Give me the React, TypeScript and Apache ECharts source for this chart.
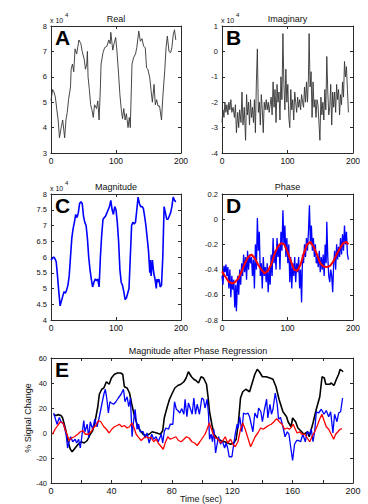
import React, { useEffect, useRef } from 'react';
import * as echarts from 'echarts';

// ---------- data ----------
const REAL: [number, number][] = [
  [0,5.07],[2.5,5.5],[4.6,5.4],[6.7,5.2],[9,4.7],[11,4.3],[13,3.6],[16,4.05],[18,4.3],[21,3.6],[23,4.3],[25,4.6],[27,5.1],[30,5.6],[31,6.3],[33,6.5],[35,6.2],[37,7.1],[39.5,6.9],[43,7.45],[46,7.3],[48,7.0],[51,6.7],[53,6.3],[55,6.5],[56,7.0],[57,6.0],[59,5.5],[61,4.9],[63,4.7],[65,4.4],[67,4.9],[70,4.75],[72,5.05],[74,4.3],[76,5.6],[77,6.5],[80,6.95],[82.5,7.15],[86,7.2],[89,7.45],[91,7.3],[92,7.75],[95,7.05],[97,7.3],[99.5,7.55],[101.5,7.0],[104,6.1],[106,5.3],[108,4.75],[110,4.35],[112,4.75],[114,4.3],[116,4.55],[118.5,4.0],[120.5,4.4],[122,4.0],[124.6,6.5],[127,6.75],[130,6.9],[132,7.15],[135,7.8],[137.5,7.4],[140,7.5],[142.5,7.2],[145,7.15],[147,6.35],[149,6.3],[152,5.95],[154,5.45],[156,5.0],[158.5,5.7],[160.5,4.9],[162.5,5.1],[164.6,4.85],[167,4.85],[170,4.3],[172,5.2],[175,6.25],[177,7.15],[179,7.6],[181.5,7.0],[184,6.95],[186,7.15],[188,7.65],[190,7.85],[192,7.45]
];

const IMAG: [number, number][] = [
  [0,-2.8],[1.5,-2.3],[3,-2.6],[4.5,-2.0],[6,-2.4],[7.5,-2.1],[9,-2.5],[10.5,-2.0],[12,-2.3],[13.5,-1.9],[15,-2.4],[17,-2.2],[19,-2.6],[20.5,-2.1],[22,-3.2],[24,-2.4],[25.5,-3.0],[27,-2.3],[29,-2.8],[30.5,-1.6],[32,-2.9],[34,-2.2],[36,-3.5],[37.5,-1.7],[39,-2.5],[40.5,-2.0],[42,-2.9],[43.5,-1.9],[45,-2.6],[46.5,-2.2],[48,-2.8],[49.5,-1.9],[51,-3.2],[52.5,-1.2],[54,0.1],[55.5,-2.4],[57,-2.0],[58.5,-2.9],[60,-1.7],[61.5,-2.3],[63,-3.2],[64.5,-2.0],[66,-2.3],[67.5,-1.9],[69,-2.3],[70.5,-2.0],[72,-2.4],[73.5,-2.1],[75,-1.8],[76.5,-2.5],[78,-1.2],[79.5,-2.2],[81,-1.5],[82.5,-2.8],[84,-1.3],[85.5,-2.0],[87,-1.6],[88.5,-2.7],[90,-1.0],[91.5,-1.9],[93,0.7],[94.5,-1.3],[96,-2.3],[97.5,-0.7],[99,-2.0],[100.5,-1.3],[102,-2.6],[103.5,-3.0],[105,-1.5],[106.5,-2.3],[108,-1.9],[109.5,-2.7],[111,-1.6],[112.5,-2.0],[114,-2.4],[115.5,-1.8],[117,-2.2],[118.5,-1.9],[120,-2.3],[121.5,-1.7],[123,-2.0],[124.5,-2.2],[126,-1.4],[127.5,-2.0],[129,-1.2],[130.5,-2.0],[132,-1.0],[133,0.7],[134.5,-1.4],[136,-0.8],[137.5,-2.6],[139,-1.2],[140.5,-2.2],[142,-1.9],[143.5,-2.6],[145,-1.9],[146.5,-2.1],[148,-2.8],[149.5,-3.5],[151,-1.8],[152.5,-2.5],[154,-2.0],[155.5,-2.7],[157,-1.5],[158.5,-2.3],[160,-0.2],[161.5,-1.6],[163,-2.5],[164.5,-2.2],[166,-1.3],[167.5,-2.9],[169,-1.6],[170.5,-2.2],[172,-1.6],[173.5,-2.4],[175,-1.3],[176.5,-1.9],[178,-1.5],[179.5,-2.5],[181,-1.7],[182.5,-2.1],[184,-1.2],[185.5,-1.8],[187,-0.4],[188.5,-1.0],[190,-0.6],[191.5,-1.5],[193,-2.4]
];

const MAGN: [number, number][] = [
  [0,5.9],[2,5.95],[4,6.0],[6,5.95],[8,5.85],[10,5.4],[12,4.9],[14,4.45],[16,4.6],[18,4.75],[20,4.9],[22,4.85],[24,4.95],[26,5.1],[28,5.4],[30,6.0],[32,6.6],[34,6.9],[36,7.1],[38,7.35],[40,7.25],[42,7.4],[44,7.7],[46,7.75],[48,7.7],[50,7.3],[52,7.1],[54,7.0],[56,6.6],[58,6.0],[60,5.6],[62,5.3],[64,5.05],[66,5.2],[68,5.3],[70,5.25],[72,5.3],[74,5.05],[76,6.0],[78,6.7],[80,7.2],[82,7.25],[84,7.3],[86,7.4],[88,7.5],[90,7.6],[92,7.8],[94,7.5],[96,7.35],[98,7.6],[100,7.5],[102,7.1],[104,6.5],[106,5.6],[108,5.2],[110,5.1],[112,4.9],[114,4.65],[116,4.7],[118,4.85],[120,5.0],[122,6.0],[124,7.0],[126,7.1],[128,7.05],[130,7.1],[132,7.5],[134,7.9],[136,7.7],[138,7.6],[140,7.6],[142,7.55],[144,7.3],[146,7.0],[148,6.6],[150,6.2],[152,5.5],[153,5.9],[154,5.4],[156,5.9],[158,5.5],[160,5.3],[162,5.0],[163,5.3],[164,5.2],[166,5.3],[168,5.05],[170,5.1],[172,6.0],[174,7.6],[176,7.4],[178,7.2],[180,7.2],[182,7.3],[184,7.4],[186,7.6],[188,7.9],[190,7.8],[192,7.75]
];

const PHASE: [number, number][] = [
  [0,-0.45],[1.5,-0.52],[3,-0.37],[4.5,-0.42],[6,-0.36],[7.5,-0.45],[9,-0.38],[10.5,-0.55],[12,-0.4],[13.5,-0.62],[15,-0.45],[16.5,-0.56],[18,-0.48],[19.5,-0.7],[21,-0.52],[22,-0.73],[24,-0.45],[25.5,-0.6],[27,-0.4],[28.5,-0.52],[30,-0.35],[31.5,-0.45],[33,-0.28],[34.5,-0.42],[36,-0.3],[37.5,-0.48],[39,-0.25],[40.5,-0.4],[42,-0.28],[43.5,-0.35],[45,-0.3],[46.5,-0.45],[48,-0.32],[49.5,-0.55],[51,-0.2],[52.5,-0.4],[54,0.01],[55.5,-0.25],[57,-0.1],[58.5,-0.45],[60,-0.35],[61.5,-0.55],[63,-0.3],[64.5,-0.45],[66,-0.38],[67.5,-0.5],[69,-0.35],[70.5,-0.58],[72,-0.4],[73.5,-0.52],[75,-0.28],[76.5,-0.45],[78,-0.15],[79.5,-0.35],[81,-0.25],[82.5,-0.4],[84,-0.15],[85.5,-0.3],[87,-0.2],[88.5,-0.4],[90,-0.1],[91.5,-0.25],[93,0.07],[94.5,-0.2],[96,-0.05],[97.5,-0.3],[99,-0.15],[100.5,-0.35],[102,-0.2],[103.5,-0.5],[105,-0.3],[106.5,-0.55],[108,-0.35],[109.5,-0.45],[111,-0.3],[112.5,-0.5],[114,-0.35],[115.5,-0.42],[117,-0.3],[118.5,-0.55],[120,-0.4],[121.5,-0.66],[123,-0.28],[124.5,-0.35],[126,-0.2],[127.5,-0.3],[129,-0.15],[130.5,-0.25],[132,-0.1],[133.5,0.11],[135,-0.2],[136.5,-0.05],[138,-0.25],[139.5,-0.15],[141,-0.3],[142.5,-0.2],[144,-0.35],[145.5,-0.3],[147,-0.38],[148.5,-0.25],[150,-0.42],[151.5,-0.3],[153,-0.4],[154.5,-0.28],[156,-0.45],[157.5,-0.2],[159,-0.35],[160,-0.02],[161.5,-0.3],[163,-0.45],[164.5,-0.5],[166,-0.4],[167.5,-0.45],[169,-0.58],[170.5,-0.35],[172,-0.25],[173.5,-0.4],[175,-0.2],[176.5,-0.32],[178,-0.22],[179.5,-0.3],[181,-0.15],[182.5,-0.28],[184,-0.12],[185.5,-0.25],[187,-0.05],[188.5,-0.2],[190,-0.1],[191.5,-0.28],[193,-0.32]
];

const PHASE_FIT: [number, number][] = [
  [0,-0.415],[5,-0.455],[10,-0.495],[15,-0.51],[20,-0.5],[25,-0.47],[30,-0.415],[35,-0.35],[40,-0.3],[45,-0.28],[50,-0.31],[55,-0.36],[60,-0.4],[65,-0.43],[70,-0.41],[75,-0.36],[80,-0.28],[85,-0.22],[90,-0.19],[95,-0.2],[100,-0.26],[105,-0.33],[110,-0.4],[115,-0.41],[120,-0.36],[125,-0.27],[130,-0.2],[135,-0.18],[140,-0.22],[145,-0.28],[150,-0.35],[155,-0.375],[160,-0.38],[165,-0.37],[170,-0.335],[175,-0.28],[180,-0.23],[185,-0.19],[190,-0.18],[193,-0.2]
];

const E_BLACK: [number, number][] = [
  [1.8,14.7],[3.3,14],[4.9,14.7],[6.6,14],[7.7,12],[8.8,7],[10,1],[11,-6],[12.8,-13],[14,-15],[16,-12],[18,-9],[20,-7],[22,-8],[24,-6],[26,-1],[27.6,2],[29,8],[31,21],[32,31],[33.6,35],[35,36],[36.7,41],[38.5,39],[40,44],[42,47],[44,48],[46,48],[47.5,47],[48.6,37],[50.4,36],[52,32],[53.5,23],[55,15],[57,7],[58.5,3],[61,-1],[63,-2],[65,-1],[67,1],[70,0],[72.5,-1],[74,2],[75,12],[77,21],[78.5,27],[80,31],[82,36],[84,38],[86,39],[88,41],[89.5,44],[91,49],[93,45],[94.6,43],[96,42],[97.7,40],[99.4,45],[101,44],[103,39],[104,29],[105,17],[106.5,7],[108,-1],[110.5,-5],[112.7,-6],[115,-7],[117,-8],[119,-9],[121,-8],[122.6,-5],[124,7],[125.5,28],[127,33],[129,35],[131.5,33],[133,39],[135,47],[136.6,51],[138,49],[140,45],[142.5,45],[145,44],[147,43],[149,37],[151,27],[153.6,17],[156,13],[157,9],[159,5],[160,12],[162,9],[163.5,4],[166,1],[167.5,-1],[170,1],[171,-3],[173.5,8],[175.7,19],[178,29],[179.5,45],[181,44],[182,39],[184.5,39],[185.6,40],[187.4,38],[189,43],[190.5,47],[191.5,51],[192.5,50],[193.5,49]
];

const E_BLUE: [number, number][] = [
  [1.8,16],[3,11],[4,7],[5.5,12.5],[6.6,9],[8.4,7],[10,-1],[11,-12],[12,-7],[13,-3],[14.4,-7],[16,-5],[17,-8],[18.3,-5],[19.4,-12],[20.3,-4],[21.7,10],[22.5,1],[24,7],[25,-4],[26,9],[27.6,3],[29,11],[30.5,5],[32,13],[33,19],[35,31],[36,35],[37,27],[38,16],[39,25],[40,24],[41.5,23],[43,25],[44.6,28],[46.4,31],[48,35],[49,25],[50.4,29],[51.5,21],[52.6,28],[53.7,-3],[54.8,11],[55.7,19],[57,3],[58,7],[59,1],[61,1],[62.3,-4],[63.6,0],[65,-8],[66.7,-1],[68,-5],[69.6,-3],[71,-7],[73,-1],[74,-8],[75,1],[76,4],[77.8,3],[79,7],[80.7,7],[81.8,25],[83,19],[84,18],[85.3,16],[86.6,19.5],[88,15],[88.8,27],[90,13],[91,24],[92.4,19],[93.5,15],[94.6,28],[95.7,15],[96.8,23],[98.3,15],[99.9,28],[101,27],[102,20],[103.4,27],[104.3,15],[105,-5],[106,-1],[107,-7],[107.8,3],[109,-16],[110,-9],[111,-3],[112.3,-9],[113.4,-6],[115,-12],[116,-8],[117,-12],[118,-19],[119.8,-19],[121,-9],[122,-1],[123.3,7],[124,4],[125,13],[126.4,1],[127.5,16],[129,15],[130.4,16],[131.5,13],[132.6,7],[133.7,1],[135,16],[136.6,12],[137.5,20],[139,17],[140,9],[141.4,19],[142.8,27],[143.6,12],[145,23],[146,15],[147,19],[148.5,32],[149.8,23],[150.7,11],[152,12.5],[153.6,5],[155,-3],[156.5,1],[157.6,-1],[158.7,-11],[160,-22],[161.3,-9],[162.7,-6],[164,-6],[165.3,-7],[166.8,-1],[168.4,-7],[169.7,1],[171.3,-1],[172.4,3],[173.5,-7],[174.6,1],[175.7,17],[177.2,16],[179,19],[180.8,15],[182.3,18],[183.9,13],[185.2,17],[186.7,0],[187.8,15],[189.4,9],[190.5,16],[191.8,17],[193.1,28]
];

const E_RED: [number, number][] = [
  [1,-1],[2.7,3],[4.4,6],[6.2,9],[8,8],[9.3,3],[10.6,-1],[12,-6],[13.7,-4],[15.5,-3],[17.7,-1],[19.4,1],[21,2],[22.8,-1],[24.8,-1],[26.5,1],[28.3,4.5],[29.8,6],[31.4,10],[33,9],[35,5],[36.7,3],[38.5,0],[40.2,3],[42,5],[43.8,6],[45.3,7],[46.9,5],[48.6,6],[50.4,4],[52,5],[53.5,8],[54.8,5],[56.4,-1],[58,-3.5],[59.7,-6],[61.4,-4],[63,-3],[64.5,-4],[66.3,-3.5],[68,-7],[69.6,-5],[71,-8],[73,-11],[74.3,-13],[75.6,-8],[77.3,-3],[79,-5],[80.9,-4],[82.7,-3],[84.4,-6],[86.2,-7],[88,-5],[89.7,-3],[91.5,-4],[93.3,-7],[95,-8],[96.8,-10],[98.6,-7],[100.3,-4],[102,-1],[103.4,3],[104.8,8],[106,4],[107.4,-1],[109,-4],[110.5,-4.5],[112.3,-8],[113.8,-6],[115.4,-3],[117,-8],[118.9,-5],[120.4,-9],[122,-11],[123.8,-7],[125.5,3],[127,8],[128.6,3],[130.4,-4],[132.2,-11],[133.7,-7],[135.2,-3],[137,0],[138.8,4],[140.5,3],[142.3,4.5],[144,6],[145.9,7],[147.6,9],[149.4,11.5],[151.2,9],[153,7],[154.7,3],[156.5,4],[157.8,3],[159.1,4.5],[160.4,7],[161.8,3],[163,0],[164.6,1],[166.2,-1],[168,-1],[169.7,-4],[171.3,-7],[172.8,-3],[174.6,1],[176.4,6],[177.9,11],[179.4,15],[180.8,10],[182.3,5],[183.9,3],[185.6,-1],[187.2,-5],[188.5,-1],[190,1],[191.4,3],[192.7,3.5]
];

const TITLES = ['Real', 'Imaginary', 'Magnitude', 'Phase', 'Magnitude after Phase Regression'];
const LETTERS = ['A', 'B', 'C', 'D', 'E'];
const E_YNAME = '% Signal Change';
const E_XNAME = 'Time (sec)';

// ---------- layout ----------
const FONT = '"Liberation Sans", Arial, Helvetica, sans-serif';
const AXC = '#2a2a2a';
const GRIDS = [
  { left: 51, top: 26, width: 130, height: 127 },
  { left: 222, top: 26, width: 131, height: 127 },
  { left: 51, top: 194, width: 130, height: 126 },
  { left: 222, top: 194, width: 131, height: 126 },
  { left: 51, top: 358, width: 302, height: 125 },
];

type AxSpec = { min: number; max: number; interval: number; fmt?: (v: number) => string };
const X_SPECS: AxSpec[] = [
  { min: 0, max: 200, interval: 100 },
  { min: 0, max: 200, interval: 100 },
  { min: 0, max: 200, interval: 100 },
  { min: 0, max: 200, interval: 100 },
  { min: 0, max: 200, interval: 20, fmt: (v: number) => (Math.round(v) % 40 === 0 ? String(Math.round(v)) : '') },
];
const Y_SPECS: AxSpec[] = [
  { min: 3, max: 8, interval: 1 },
  { min: -4, max: 1, interval: 1 },
  { min: 4, max: 8, interval: 0.5 },
  { min: -0.8, max: 0.2, interval: 0.2, fmt: (v: number) => String(Math.round(v * 10) / 10) },
  { min: -40, max: 60, interval: 20 },
];

function axisBase(gridIndex: number, s: AxSpec) {
  return {
    gridIndex,
    type: 'value',
    min: s.min,
    max: s.max,
    interval: s.interval,
    axisLine: { show: true, onZero: false, lineStyle: { color: AXC, width: 1 } },
    axisTick: { show: true, inside: true, length: 3, lineStyle: { color: AXC, width: 1 } },
    splitLine: { show: false },
  };
}

export default function App() {
  const ref = useRef<HTMLDivElement>(null);
  useEffect(() => {
    if (!ref.current) return;
    const chart = echarts.init(ref.current, undefined, { renderer: 'svg' });
    const xAxis: any[] = [];
    const yAxis: any[] = [];
    GRIDS.forEach((_, g) => {
      const xs = X_SPECS[g];
      const ys = Y_SPECS[g];
      xAxis.push({
        ...axisBase(g, xs),
        position: 'bottom',
        axisLabel: { show: true, fontSize: g === 4 ? 9 : 8.5, color: '#111', margin: 3, fontFamily: FONT, showMinLabel: true, showMaxLabel: true, formatter: xs.fmt },
      });
      xAxis.push({ ...axisBase(g, xs), position: 'top', axisLabel: { show: false } });
      yAxis.push({
        ...axisBase(g, ys),
        position: 'left',
        axisLabel: { show: true, fontSize: 7.5, color: '#111', margin: 4, fontFamily: FONT, showMinLabel: true, showMaxLabel: true, formatter: ys.fmt },
      });
      yAxis.push({ ...axisBase(g, ys), position: 'right', axisLabel: { show: false } });
    });

    const line = (g: number, data: [number, number][], color: string, width: number) => ({
      type: 'line',
      xAxisIndex: 2 * g,
      yAxisIndex: 2 * g,
      data,
      showSymbol: false,
      symbol: 'none',
      clip: true,
      lineStyle: { color, width },
      itemStyle: { color },
      emphasis: { disabled: true },
      z: 2,
    });

    const graphics: any[] = [];
    GRIDS.forEach((gr, g) => {
      graphics.push({
        type: 'text',
        x: gr.left + gr.width / 2 + (g === 4 ? -4 : 0),
        y: gr.top - 7,
        style: { text: TITLES[g], fontSize: 9, fontFamily: FONT, fill: '#111', align: 'center', verticalAlign: 'middle' },
      });
      graphics.push({
        type: 'text',
        x: gr.left + 4,
        y: gr.top + 1,
        style: { text: LETTERS[g], fontSize: 21, fontWeight: 'bold', fontFamily: FONT, fill: '#000', align: 'left', verticalAlign: 'top' },
        z: 10,
      });
      if (g < 3) {
        graphics.push({
          type: 'text',
          x: gr.left - 1,
          y: gr.top - 6,
          style: { text: 'x 10', fontSize: 7, fontFamily: FONT, fill: '#111', align: 'left', verticalAlign: 'middle' },
        });
        graphics.push({
          type: 'text',
          x: gr.left + 14,
          y: gr.top - 11,
          style: { text: '4', fontSize: 6, fontFamily: FONT, fill: '#111', align: 'left', verticalAlign: 'middle' },
        });
      }
    });
    graphics.push({
      type: 'text',
      x: 28,
      y: 418,
      rotation: Math.PI / 2,
      style: { text: E_YNAME, fontSize: 9, fontFamily: FONT, fill: '#111', align: 'center', verticalAlign: 'middle' },
    });
    graphics.push({
      type: 'text',
      x: 201,
      y: 494,
      style: { text: E_XNAME, fontSize: 9, fontFamily: FONT, fill: '#111', align: 'center', verticalAlign: 'top' },
    });

    chart.setOption({
      animation: false,
      backgroundColor: '#fff',
      textStyle: { fontFamily: FONT },
      grid: GRIDS.map((g) => ({ ...g, containLabel: false, outerBoundsMode: 'none', show: false })),
      xAxis,
      yAxis,
      series: [
        line(0, REAL, '#333', 0.9),
        line(1, IMAG, '#333', 0.9),
        line(2, MAGN, '#0000ff', 1.6),
        line(3, PHASE, '#0000ff', 1.3),
        line(3, PHASE_FIT, '#ff0000', 2),
        line(4, E_BLACK, '#000', 1.6),
        line(4, E_BLUE, '#0000ff', 1.3),
        line(4, E_RED, '#ff0000', 1.3),
      ],
      graphic: graphics,
    });
    return () => chart.dispose();
  }, []);
  return (
    <div
      ref={ref}
      style={{ position: 'fixed', left: 0, top: 0, width: 368, height: 504, background: '#fff' }}
    />
  );
}
